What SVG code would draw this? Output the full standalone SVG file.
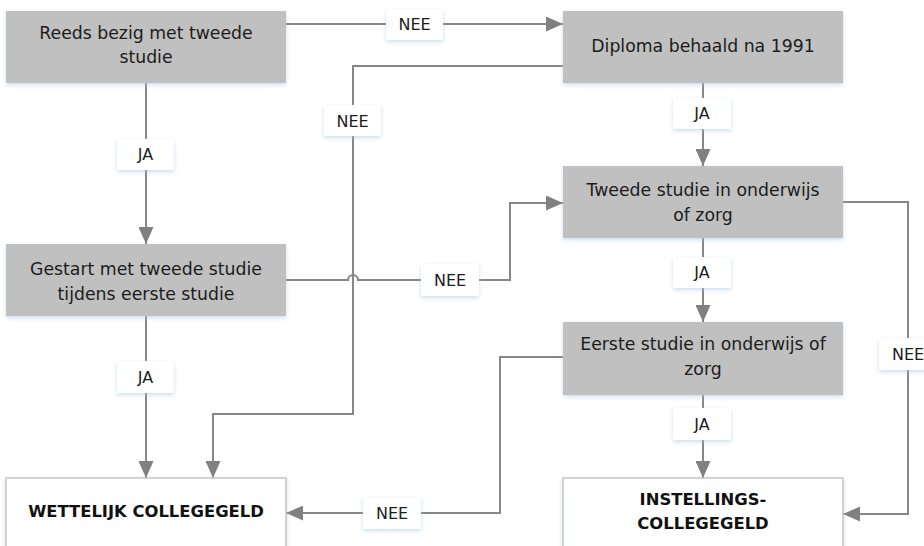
<svg xmlns="http://www.w3.org/2000/svg" width="924" height="546" viewBox="0 0 924 546">
<style>
.q{fill:#c0c0c0;filter:url(#sh)}
.r{fill:#fff;stroke:#c6c6c6;stroke-width:1.5;filter:url(#sh)}
.lb{fill:#fff;filter:url(#sh)}
.t{font-family:"DejaVu Sans",sans-serif;font-size:17.3px;fill:#1c1c1c;text-anchor:middle}
.b{font-family:"DejaVu Sans",sans-serif;font-size:16.4px;font-weight:bold;fill:#111;text-anchor:middle}
.l{font-family:"DejaVu Sans",sans-serif;font-size:16px;fill:#1c1c1c;text-anchor:middle}
.c{fill:none;stroke:#878787;stroke-width:2}
.a{marker-end:url(#ah)}
</style>
<defs>
<filter id="sh" x="-10%" y="-20%" width="120%" height="150%">
<feDropShadow dx="0" dy="2" stdDeviation="2" flood-color="#a9c1e0" flood-opacity="0.55"/>
</filter>
<marker id="ah" viewBox="0 0 17 15" refX="17" refY="7.5" markerWidth="17" markerHeight="15" markerUnits="userSpaceOnUse" orient="auto">
<path d="M0,0 L17,7.5 L0,15 z" fill="#808080"/>
</marker>
</defs>
<rect width="924" height="546" fill="#fff"/>
<g id="connectors">
<path class="c a" d="M286,24 H563"/>
<path class="c a" d="M563,66 H353 V414 H213 V478"/>
<path class="c a" d="M146,83 V244"/>
<path class="c a" d="M146,316 V478"/>
<path class="c a" d="M286,280 H348 A5,5 0 0 1 358,280 H510 V203 H563"/>
<path class="c a" d="M703,83 V166"/>
<path class="c a" d="M703,238 V322"/>
<path class="c a" d="M703,395 V478"/>
<path class="c a" d="M843,202 H908 V514 H843"/>
<path class="c a" d="M563,357 H500 V513 H286"/>
<g id="labels">
<rect class="lb" x="386" y="9" width="57" height="31"/><text class="l" x="414.5" y="30">NEE</text>
<rect class="lb" x="324" y="105" width="57" height="31"/><text class="l" x="352.5" y="127">NEE</text>
<rect class="lb" x="117" y="139" width="57" height="31"/><text class="l" x="145.5" y="160">JA</text>
<rect class="lb" x="117" y="361" width="57" height="32"/><text class="l" x="145.5" y="383">JA</text>
<rect class="lb" x="673" y="98" width="58" height="31"/><text class="l" x="702" y="119">JA</text>
<rect class="lb" x="673" y="257" width="58" height="31"/><text class="l" x="702" y="278">JA</text>
<rect class="lb" x="673" y="408" width="58" height="32"/><text class="l" x="702" y="430">JA</text>
<rect class="lb" x="421" y="264" width="58" height="32"/><text class="l" x="450" y="286">NEE</text>
<rect class="lb" x="879" y="338" width="58" height="32"/><text class="l" x="908" y="360">NEE</text>
<rect class="lb" x="363" y="497" width="58" height="32"/><text class="l" x="392" y="519">NEE</text>
</g>
</g>
<g id="n1"><rect class="q" x="6" y="11" width="280" height="72"/><text class="t" x="146" y="39">Reeds bezig met tweede</text><text class="t" x="146" y="63">studie</text></g>
<g id="n2"><rect class="q" x="563" y="11" width="280" height="72"/><text class="t" x="703" y="52">Diploma behaald na 1991</text></g>
<g id="n3"><rect class="q" x="6" y="244" width="280" height="72"/><text class="t" x="146" y="275">Gestart met tweede studie</text><text class="t" x="146" y="300">tijdens eerste studie</text></g>
<g id="n4"><rect class="q" x="563" y="166" width="280" height="72"/><text class="t" x="703" y="196">Tweede studie in onderwijs</text><text class="t" x="703" y="221">of zorg</text></g>
<g id="n5"><rect class="q" x="563" y="322" width="280" height="73"/><text class="t" x="703" y="350">Eerste studie in onderwijs of</text><text class="t" x="703" y="375">zorg</text></g>
<g id="n6"><rect class="r" x="6" y="478" width="280" height="72"/><text class="b" x="146" y="517">WETTELIJK COLLEGEGELD</text></g>
<g id="n7"><rect class="r" x="563" y="478" width="280" height="72"/><text class="b" x="703" y="505">INSTELLINGS-</text><text class="b" x="703" y="529">COLLEGEGELD</text></g>
</svg>
